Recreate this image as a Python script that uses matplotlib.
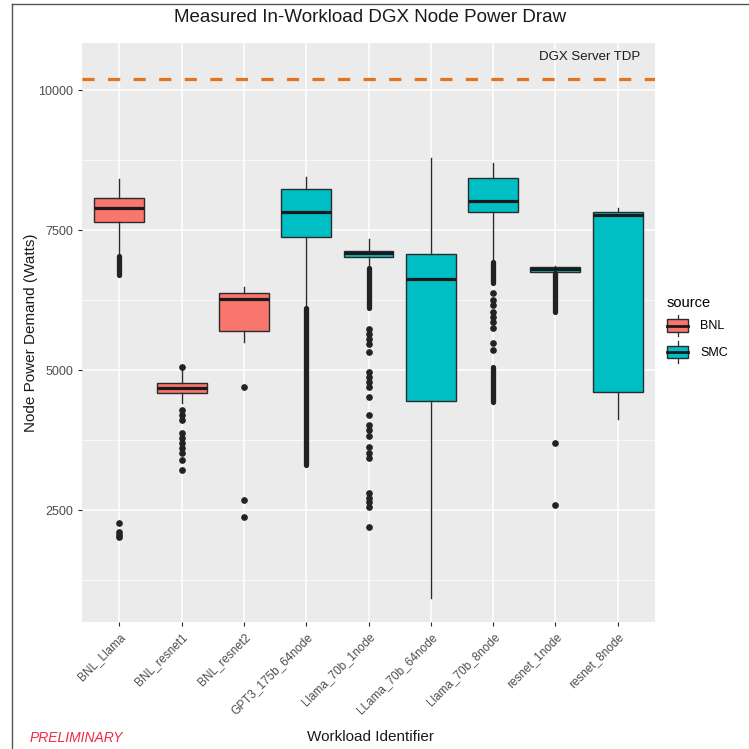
import numpy as np
import matplotlib.pyplot as plt
from matplotlib.patches import Rectangle
from matplotlib.lines import Line2D
from matplotlib.legend_handler import HandlerBase

plt.rcParams['font.family'] = ['Liberation Sans', 'DejaVu Sans']

# Workloads and their box statistics (Watts)
categories = ['BNL_Llama', 'BNL_resnet1', 'BNL_resnet2', 'GPT3_175b_64node',
              'Llama_70b_1node', 'LLama_70b_64node', 'Llama_70b_8node',
              'resnet_1node', 'resnet_8node']
source = ['BNL', 'BNL', 'BNL', 'SMC', 'SMC', 'SMC', 'SMC', 'SMC', 'SMC']
whislo = [7077, 4404, 5500, 6125, 6850, 927, 6964, 6750, 4119]
q1 = [7648, 4583, 5696, 7375, 7010, 4446, 7816, 6755, 4601]
med = [7897, 4672, 6267, 7821, 7090, 6625, 8018, 6800, 7768]
q3 = [8075, 4761, 6374, 8232, 7130, 7071, 8423, 6844, 7816]
whishi = [8414, 4993, 6482, 8446, 7339, 8786, 8702, 6862, 7887]

# individual outliers
outliers = [
    [2270, 2110, 2060, 2020],
    [5058, 4285, 4196, 4106, 3869, 3780, 3690, 3601, 3512, 3392, 3213],
    [4696, 2677, 2374],
    [],
    [5740, 5650, 5560, 5470, 5320, 4960, 4870, 4780, 4690, 4520,
     4190, 4010, 3920, 3830, 3630, 3510, 3420, 2800, 2720, 2640, 2560, 2200],
    [],
    [6374, 6249, 6160, 6035, 5946, 5857, 5749, 5481, 5356],
    [3690, 2588],
    [],
]
# ranges where outliers overlap into a solid column (low, high)
dense_outliers = [
    [(6690, 7040)],
    [],
    [],
    [(3300, 6110)],
    [(6100, 6830)],
    [],
    [(6553, 6928), (4428, 5053)],
    [(6041, 6726)],
    [],
]
tdp = 10200

colors = {'BNL': '#F8766D', 'SMC': '#00BFC4'}
edge = '#2b2b2b'
dot = '#222222'


class BoxKey(HandlerBase):
    # small boxplot glyph for the legend, like ggplot's draw_key_boxplot
    def create_artists(self, legend, orig_handle, xdescent, ydescent,
                       width, height, fontsize, trans):
        x0, y0 = -xdescent, -ydescent
        cx = x0 + width / 2
        rect = Rectangle((x0 + 0.05 * width, y0 + 0.22 * height), 0.9 * width, 0.56 * height,
                         facecolor=orig_handle.get_facecolor(), edgecolor=edge,
                         linewidth=1.0, transform=trans)
        medl = Line2D([x0 + 0.05 * width, x0 + 0.95 * width], [y0 + height / 2] * 2,
                      color='#1a1a1a', linewidth=2.0, transform=trans)
        w1 = Line2D([cx, cx], [y0, y0 + 0.22 * height], color=edge,
                    linewidth=0.9, transform=trans)
        w2 = Line2D([cx, cx], [y0 + 0.78 * height, y0 + height], color=edge,
                    linewidth=0.9, transform=trans)
        return [w1, w2, rect, medl]


fig = plt.figure(figsize=(7.49, 7.49), dpi=100)
ax = fig.add_axes([82 / 749, 1 - 622 / 749, 573 / 749, 579 / 749])
ax.set_facecolor('#EBEBEB')
ax.set_axisbelow(True)

x = np.arange(1, len(categories) + 1)
stats = []
for i, c in enumerate(categories):
    stats.append(dict(whislo=whislo[i], q1=q1[i], med=med[i], q3=q3[i],
                      whishi=whishi[i], fliers=outliers[i], label=c))

bp = ax.bxp(stats, positions=x, widths=0.8, patch_artist=True, showcaps=False,
            boxprops=dict(edgecolor=edge, linewidth=1.0),
            medianprops=dict(color='#1a1a1a', linewidth=2.3, solid_capstyle='butt'),
            whiskerprops=dict(color=edge, linewidth=1.0),
            flierprops=dict(marker='o', markerfacecolor=dot, markeredgecolor=dot,
                            markersize=3.8, linestyle='none'))
for patch, s in zip(bp['boxes'], source):
    patch.set_facecolor(colors[s])

for i, ranges in enumerate(dense_outliers):
    for lo, hi in ranges:
        ax.plot([x[i], x[i]], [lo, hi], color=dot, lw=3.8, solid_capstyle='round', zorder=3)

# TDP reference line and label
ax.axhline(tdp, color='#E3731C', lw=2.3, dashes=(3.8, 4.2), zorder=4)
ax.text(9.36, 10590, 'DGX Server TDP', ha='right', va='center', fontsize=9.5, color='#1a1a1a')

ax.set_xlim(0.4, 9.6)
ax.set_ylim(500, 10840)
ax.set_yticks([2500, 5000, 7500, 10000])
ax.set_yticks([1250, 3750, 6250, 8750], minor=True)
ax.set_xticks(x)
ax.set_xticklabels(categories, rotation=45, ha='right', rotation_mode='anchor')
ax.grid(True, which='major', color='white', lw=1.1)
ax.grid(True, which='minor', axis='y', color='white', lw=0.5)
ax.tick_params(which='major', length=3, width=0.8, color=edge, labelcolor='#4D4D4D')
ax.tick_params(axis='x', labelsize=8.5)
ax.tick_params(axis='y', labelsize=9)
ax.tick_params(which='minor', length=0)
for sp in ax.spines.values():
    sp.set_visible(False)

ax.set_xlabel('Workload Identifier', fontsize=11, color='#1a1a1a')
ax.xaxis.set_label_coords(0.503, -0.186)
ax.set_ylabel('Node Power Demand (Watts)', fontsize=11, color='#1a1a1a')
ax.yaxis.set_label_coords(-0.077, 0.5)

fig.text(370 / 749, 1 - 18 / 749, 'Measured In-Workload DGX Node Power Draw',
         ha='center', va='center', fontsize=13.5, color='#1a1a1a')
fig.text(30 / 749, 1 - 738 / 749, 'PRELIMINARY', ha='left', va='center',
         fontsize=10, style='italic', color='#F0284A')

handles = [Rectangle((0, 0), 1, 1, facecolor=colors['BNL']),
           Rectangle((0, 0), 1, 1, facecolor=colors['SMC'])]
fig.legend(handles, ['BNL', 'SMC'], title='source', loc='upper left',
           bbox_to_anchor=(655 / 749, 1 - 285 / 749), frameon=False,
           handler_map={Rectangle: BoxKey()}, handlelength=1.8, handleheight=2.3,
           handletextpad=0.9, fontsize=9, title_fontsize=10.5, alignment='left',
           labelspacing=0.35)

# thin frame around the figure (top and left edges only visible)
fig.add_artist(Line2D([12 / 749, 12 / 749], [0, 1 - 4 / 749], color='#555555', lw=1))
fig.add_artist(Line2D([12 / 749, 1], [1 - 4 / 749, 1 - 4 / 749], color='#555555', lw=1))

fig.savefig('out.png', dpi=100)
